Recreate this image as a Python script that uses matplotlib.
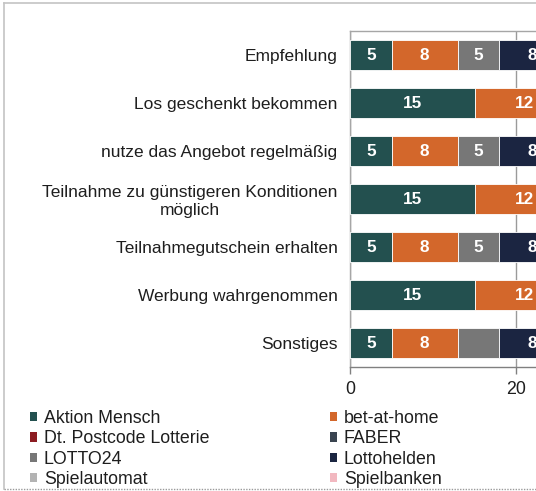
import matplotlib
matplotlib.use("Agg")
import matplotlib.pyplot as plt
from matplotlib.patches import Patch
from matplotlib.lines import Line2D

plt.rcParams['font.family'] = ['Liberation Sans', 'DejaVu Sans']

categories = [
    "Empfehlung",
    "Los geschenkt bekommen",
    "nutze das Angebot regelmäßig",
    "Teilnahme zu günstigeren Konditionen\nmöglich",
    "Teilnahmegutschein erhalten",
    "Werbung wahrgenommen",
    "Sonstiges",
]

series_names = ["Aktion Mensch", "bet-at-home", "Dt. Postcode Lotterie", "FABER",
                "LOTTO24", "Lottohelden", "Spielautomat", "Spielbanken"]

aktion_mensch = [5, 15, 5, 15, 5, 15, 5]
bet_at_home = [8, 12, 8, 12, 8, 12, 8]
dt_postcode = [0, 0, 0, 0, 0, 0, 0]
faber = [0, 0, 0, 0, 0, 0, 0]
lotto24 = [5, 0, 5, 0, 5, 0, 5]
lottohelden = [8, 0, 8, 0, 8, 0, 8]
spielautomat = [0, 0, 0, 0, 0, 0, 0]
spielbanken = [0, 0, 0, 0, 0, 0, 0]

# labels shown on the segments (the grey Sonstiges segment has no label)
lotto24_labels = ["5", "", "5", "", "5", "", ""]

x_ticks = [0, 20]
x_max = 30

colors = ["#23504f", "#d3672b", "#8c1c22", "#3a4450",
          "#777777", "#1b2541", "#b3b3b3", "#f2b8c0"]

series = [aktion_mensch, bet_at_home, dt_postcode, faber,
          lotto24, lottohelden, spielautomat, spielbanken]

W, H = 536, 491
fig = plt.figure(figsize=(W / 100, H / 100), dpi=100)

FS_CAT = 12.5
FS = 12.8

ax_left = 350 / W
ax_bottom = 1 - 367 / H
ax_height = (367 - 31) / H
px_per_unit = 8.3
ax_width = (x_max * px_per_unit) / W
ax = fig.add_axes([ax_left, ax_bottom, ax_width, ax_height])

ypos = list(range(len(categories)))
left = [0] * len(categories)
for name, vals, col in zip(series_names, series, colors):
    bars = ax.barh(ypos, vals, left=left, height=0.625, color=col,
                   edgecolor="white", linewidth=0.6, zorder=3)
    if name == "LOTTO24":
        labels = lotto24_labels
    else:
        labels = [str(v) if v else "" for v in vals]
    ax.bar_label(bars, labels=labels, label_type="center", color="white",
                 fontweight="bold", fontsize=12.3, zorder=4)
    left = [l + v for l, v in zip(left, vals)]

ax.set_ylim(len(categories) - 0.5, -0.5)
ax.set_xlim(0, x_max)
ax.set_xticks(x_ticks)
ax.set_xticklabels([str(t) for t in x_ticks])
ax.set_yticks(ypos)
ax.set_yticklabels(categories, multialignment="center")

ax.tick_params(axis="y", length=0, pad=9, labelsize=FS_CAT, labelcolor="#1e1e1e")
ax.tick_params(axis="x", length=5, width=1, color="#808080", direction="out",
               pad=5, labelsize=FS, labelcolor="#1e1e1e")

ax.xaxis.grid(True, color="#9a9a9a", linewidth=1, zorder=0)
ax.set_axisbelow(True)
for s in ["left", "top", "right"]:
    ax.spines[s].set_color("#a6a6a6")
    ax.spines[s].set_linewidth(1)
ax.spines["bottom"].set_color("#808080")
ax.spines["bottom"].set_linewidth(1)

# legend, row-wise order in two columns
handles = [Patch(facecolor=c, edgecolor="none") for c in colors]
col1 = [0, 2, 4, 6]
col2 = [1, 3, 5, 7]
leg_kw = dict(frameon=False, loc="upper left", borderpad=0, borderaxespad=0,
              handlelength=0.42, handleheight=0.42, handletextpad=0.36,
              labelspacing=0.19, fontsize=FS, labelcolor="#1e1e1e")
leg1 = fig.legend([handles[i] for i in col1], [series_names[i] for i in col1],
                  bbox_to_anchor=(30 / W, 1 - 410 / H), **leg_kw)
leg2 = fig.legend([handles[i] for i in col2], [series_names[i] for i in col2],
                  bbox_to_anchor=(330 / W, 1 - 410 / H), **leg_kw)

# chart frame
fig.add_artist(Line2D([4 / W, 4 / W], [1 - 3 / H, 1 - 489 / H], color="#c4c4c4", lw=1.2))
fig.add_artist(Line2D([4 / W, 1], [1 - 3 / H, 1 - 3 / H], color="#c4c4c4", lw=1.2))
fig.add_artist(Line2D([4 / W, 1], [1 - 489 / H, 1 - 489 / H], color="#9a9a9a", lw=1,
                      linestyle=(0, (1, 1))))

fig.savefig("out.png", dpi=100)
